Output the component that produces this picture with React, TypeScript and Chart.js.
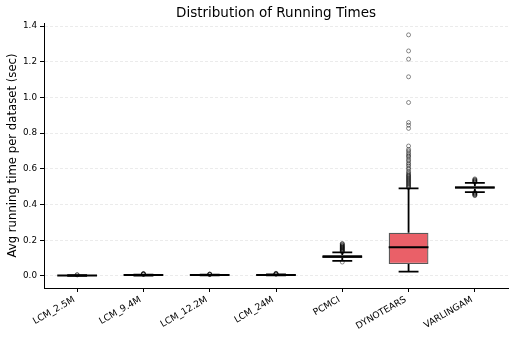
import React, { useEffect, useRef } from "react";
import { Chart, registerables } from "chart.js";

Chart.register(...registerables);

const categories = ["LCM_2.5M", "LCM_9.4M", "LCM_12.2M", "LCM_24M", "PCMCI", "DYNOTEARS", "VARLINGAM"];
const q1 = [0.002, 0.004, 0.004, 0.005, 0.1, 0.067, 0.488];
const medians = [0.003, 0.005, 0.005, 0.006, 0.108, 0.161, 0.495];
const q3 = [0.004, 0.006, 0.006, 0.007, 0.117, 0.242, 0.502];
const whiskerLow = [0.001, 0.002, 0.003, 0.003, 0.084, 0.024, 0.47];
const whiskerHigh = [0.005, 0.008, 0.007, 0.009, 0.132, 0.491, 0.522];

const outliersLCM25 = [0.006, 0.007];
const outliersLCM94 = [0.009, 0.01, 0.011, 0.012, 0.014];
const outliersLCM122 = [0.008, 0.009, 0.01, 0.011];
const outliersLCM24 = [0.01, 0.011, 0.012, 0.013, 0.015];
const outliersPCMCI = [0.078, 0.135, 0.138, 0.141, 0.144, 0.147, 0.15, 0.153, 0.156, 0.159, 0.162, 0.165, 0.168, 0.171, 0.175, 0.179, 0.182];
const outliersDYNOTEARS = [
  0.495, 0.5, 0.505, 0.51, 0.515, 0.52, 0.525, 0.53, 0.535, 0.54, 0.545, 0.55, 0.555, 0.56, 0.565, 0.57,
  0.578, 0.585, 0.597, 0.605, 0.616, 0.625, 0.634, 0.645, 0.653, 0.665, 0.672, 0.68, 0.69, 0.7, 0.709, 0.728,
  0.827, 0.845, 0.86, 0.972, 1.116, 1.215, 1.261, 1.351,
];
const outliersVARLINGAM = [0.45, 0.453, 0.456, 0.459, 0.462, 0.465, 0.468, 0.525, 0.528, 0.531, 0.534, 0.537, 0.54, 0.544];
const outlierGroups = [outliersLCM25, outliersLCM94, outliersLCM122, outliersLCM24, outliersPCMCI, outliersDYNOTEARS, outliersVARLINGAM];

const yTicks = [0, 0.2, 0.4, 0.6, 0.8, 1.0, 1.2, 1.4];
const yMin = -0.0675;
const yMax = 1.4175;

const titleText = "Distribution of Running Times";
const yTitle = "Avg running time per dataset (sec)";
const FONT = "'DejaVu Sans', sans-serif";
const X_FONT_SIZE = 9.2;

const boxPlugin = {
  id: "boxParts",
  beforeDatasetsDraw(chart: any) {
    const { ctx, scales } = chart;
    const xs = scales.x;
    const ys = scales.y;
    ctx.save();
    ctx.strokeStyle = "#000";
    ctx.lineWidth = 1.8;
    categories.forEach((_, i) => {
      const cx = xs.getPixelForValue(i);
      const half = (xs.getPixelForValue(i + 0.15) - xs.getPixelForValue(i - 0.15)) / 2;
      const yl = ys.getPixelForValue(whiskerLow[i]);
      const yh = ys.getPixelForValue(whiskerHigh[i]);
      const yq1 = ys.getPixelForValue(q1[i]);
      const yq3 = ys.getPixelForValue(q3[i]);
      ctx.beginPath();
      ctx.moveTo(cx, yq1);
      ctx.lineTo(cx, yl);
      ctx.moveTo(cx, yq3);
      ctx.lineTo(cx, yh);
      ctx.moveTo(cx - half, yl);
      ctx.lineTo(cx + half, yl);
      ctx.moveTo(cx - half, yh);
      ctx.lineTo(cx + half, yh);
      ctx.stroke();
    });
    ctx.restore();
  },
  afterDatasetDraw(chart: any, args: any) {
    if (args.index !== 0) return;
    const { ctx, scales } = chart;
    const xs = scales.x;
    const ys = scales.y;
    ctx.save();
    ctx.strokeStyle = "#000";
    ctx.lineWidth = 2;
    categories.forEach((_, i) => {
      const l = xs.getPixelForValue(i - 0.3);
      const r = xs.getPixelForValue(i + 0.3);
      const y = ys.getPixelForValue(medians[i]);
      ctx.beginPath();
      ctx.moveTo(l, y);
      ctx.lineTo(r, y);
      ctx.stroke();
    });
    ctx.restore();
  },
  afterDraw(chart: any) {
    const { ctx, chartArea, scales } = chart;
    ctx.save();
    ctx.fillStyle = "#000";
    ctx.font = `13.5px ${FONT}`;
    ctx.textAlign = "center";
    ctx.textBaseline = "alphabetic";
    ctx.fillText(titleText, (chartArea.left + chartArea.right) / 2, 16.5);
    // rotated category labels, matplotlib-style (rotation 30, ha right)
    const xs = scales.x;
    ctx.font = `${X_FONT_SIZE}px ${FONT}`;
    ctx.textAlign = "right";
    ctx.textBaseline = "top";
    const ang = Math.PI / 6;
    const h = X_FONT_SIZE * 1.15;
    const y0 = chartArea.bottom + 4 + 3;
    categories.forEach((label, i) => {
      const tx = xs.getPixelForValue(i);
      ctx.save();
      ctx.translate(tx - h * Math.sin(ang), y0);
      ctx.rotate(-ang);
      ctx.fillText(label, 0, 0);
      ctx.restore();
    });
    ctx.restore();
  },
};

export default function App() {
  const ref = useRef<HTMLCanvasElement>(null);
  useEffect(() => {
    document.body.style.margin = "0";
    const outlierPoints: { x: string; y: number }[] = [];
    outlierGroups.forEach((g, i) => g.forEach((v) => outlierPoints.push({ x: categories[i], y: v })));
    const chart = new Chart(ref.current as HTMLCanvasElement, {
      type: "bar",
      data: {
        labels: categories,
        datasets: [
          {
            type: "bar",
            data: categories.map((_, i) => [q1[i], q3[i]]) as any,
            backgroundColor: "rgb(234,96,104)",
            borderColor: "rgba(70,70,70,0.9)",
            borderWidth: 1.3,
            borderSkipped: false,
            categoryPercentage: 1,
            barPercentage: 0.6,
          } as any,
          {
            type: "scatter",
            data: outlierPoints as any,
            pointRadius: 2,
            pointBorderWidth: 0.9,
            pointBorderColor: "rgba(0,0,0,0.5)",
            pointBackgroundColor: "rgba(0,0,0,0)",
            pointHoverRadius: 2,
          } as any,
        ],
      },
      options: {
        animation: false,
        responsive: false,
        events: [],
        layout: { padding: { top: 23, right: 8, left: 0, bottom: 0 } },
        plugins: { legend: { display: false }, tooltip: { enabled: false }, title: { display: false } },
        scales: {
          x: {
            type: "category",
            offset: true,
            grid: {
              display: true,
              offset: false,
              drawOnChartArea: false,
              drawTicks: true,
              tickLength: 4,
              tickColor: "#000",
              tickWidth: 1,
            },
            border: { display: true, color: "#000", width: 1 },
            ticks: { display: false, autoSkip: false },
            afterFit(scale: any) {
              scale.height = 52;
            },
          },
          y: {
            type: "linear",
            min: yMin,
            max: yMax,
            afterBuildTicks(scale: any) {
              scale.ticks = yTicks.map((v) => ({ value: v }));
            },
            grid: {
              color: "rgba(0,0,0,0.1)",
              lineWidth: 0.8,
              drawTicks: true,
              tickLength: 4,
              tickColor: "#000",
              tickWidth: 1,
              tickBorderDash: [],
            },
            border: { display: true, color: "#000", width: 1, dash: [3, 2] },
            ticks: {
              color: "#000",
              padding: 3,
              font: { family: FONT, size: 8.8 },
              callback: (v: any) => Number(v).toFixed(1),
            },
            title: {
              display: true,
              text: yTitle,
              color: "#000",
              font: { family: FONT, size: 11.7 },
              padding: { top: 6, bottom: 0 },
            },
            afterFit(scale: any) {
              scale.width = 44;
            },
          },
        },
      } as any,
      plugins: [boxPlugin],
    });
    return () => chart.destroy();
  }, []);
  return (
    <div style={{ position: "absolute", left: 0, top: 0, width: 516, height: 340 }}>
      <canvas ref={ref} width={516} height={340} style={{ width: 516, height: 340, display: "block" }} />
    </div>
  );
}
